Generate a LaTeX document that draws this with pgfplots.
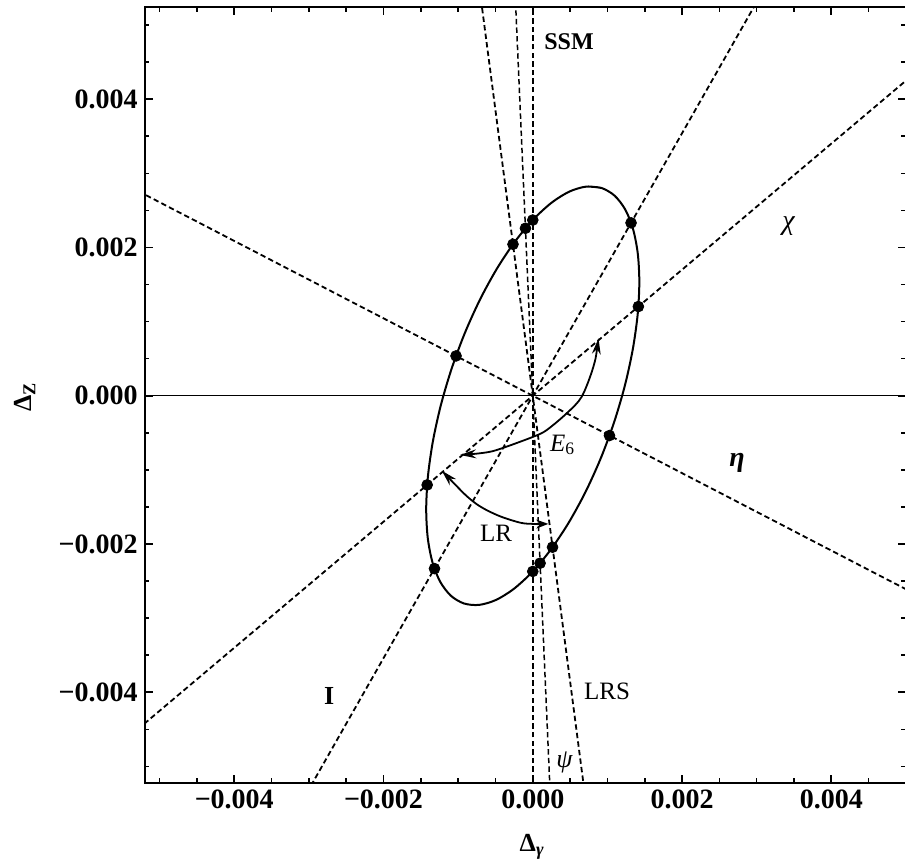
\documentclass[border=0pt]{standalone}
\usepackage{fontspec}
\setmainfont{Liberation Serif}
\usepackage{pgfplots}
\pgfplotsset{compat=1.18}
\usetikzlibrary{arrows.meta}

\begin{document}
\begin{tikzpicture}
\useasboundingbox (0,0) rectangle (452.5pt,431pt);
\begin{axis}[
  at={(72.35pt,39.65pt)}, anchor=south west,
  scale only axis, width=380.6pt, height=387.7pt,
  xmin=-0.0052, xmax=0.005, ymin=-0.00522, ymax=0.00524,
  axis line style={line width=0.9pt},
  tick align=inside,
  major tick length=4pt, minor tick length=2.3pt,
  every tick/.style={line width=0.8pt, black},
  scaled x ticks=false, scaled y ticks=false,
  xtick={-0.004,-0.002,0,0.002,0.004},
  ytick={-0.004,-0.002,0,0.002,0.004},
  xticklabels={−0.004,−0.002,0.000,0.002,0.004},
  yticklabels={−0.004,−0.002,0.000,0.002,0.004},
  minor xtick={-0.005,-0.0045,-0.0035,-0.003,-0.0025,-0.0015,-0.001,-0.0005,0.0005,0.001,0.0015,0.0025,0.003,0.0035,0.0045,0.005},
  minor ytick={-0.005,-0.0045,-0.0035,-0.003,-0.0025,-0.0015,-0.001,-0.0005,0.0005,0.001,0.0015,0.0025,0.003,0.0035,0.0045,0.005},
  tick label style={font=\fontsize{14}{16}\selectfont\bfseries},
  xlabel={\bfseries Δ\textsubscript{\textit{γ}}},
  ylabel={\bfseries Δ\textsubscript{Z}},
  xlabel style={at={(axis description cs:0.509,-0.0825)}, anchor=center, font=\fontsize{13}{15}\selectfont},
  ylabel style={at={(axis description cs:-0.1573,0.4977)}, anchor=center, font=\fontsize{13}{15}\selectfont},
  clip=true,
]
% horizontal axis through the origin
\addplot[line width=0.7pt] coordinates {(-0.006,0) (0.006,0)};

% model directions through the origin
\pgfplotsset{mdir/.style={line width=0.9pt, dash pattern=on 2.7pt off 1.6pt}}
\addplot[mdir] coordinates {(-0.006,0.003132) (0.006,-0.003132)};   % eta
\addplot[mdir] coordinates {(-0.006,-0.0051) (0.006,0.0051)};       % chi
\addplot[mdir] coordinates {(-0.0032,-0.005664) (0.0032,0.005664)}; % I
\addplot[mdir, line width=0.75pt] coordinates {(0,-0.006) (0,0.006)};        % SSM
\addplot[mdir, line width=0.75pt] coordinates {(0.000261,-0.006) (-0.000261,0.006)}; % psi
\addplot[mdir] coordinates {(0.000779,-0.006) (-0.000779,0.006)};    % LRS

% allowed region
\addplot[line width=1pt, smooth] coordinates {
 (0.9231e-3,2.8019e-3) (0.7199e-3,2.8216e-3) (0.4948e-3,2.7557e-3) (0.2547e-3,2.6060e-3)
 (0.0068e-3,2.3771e-3) (-0.2411e-3,2.0759e-3) (-0.4818e-3,1.7118e-3) (-0.7080e-3,1.2956e-3)
 (-0.9126e-3,0.8399e-3) (-1.0894e-3,0.3589e-3) (-1.2332e-3,-0.1331e-3) (-1.3394e-3,-0.6210e-3)
 (-1.4050e-3,-1.0902e-3) (-1.4279e-3,-1.5261e-3) (-1.4074e-3,-1.9157e-3) (-1.3441e-3,-2.2470e-3)
 (-1.2400e-3,-2.5101e-3) (-1.0983e-3,-2.6970e-3) (-0.9231e-3,-2.8019e-3) (-0.7199e-3,-2.8216e-3)
 (-0.4948e-3,-2.7557e-3) (-0.2547e-3,-2.6060e-3) (-0.0068e-3,-2.3771e-3) (0.2411e-3,-2.0759e-3)
 (0.4818e-3,-1.7118e-3) (0.7080e-3,-1.2956e-3) (0.9126e-3,-0.8399e-3) (1.0894e-3,-0.3589e-3)
 (1.2332e-3,0.1331e-3) (1.3394e-3,0.6210e-3) (1.4050e-3,1.0902e-3) (1.4279e-3,1.5261e-3)
 (1.4074e-3,1.9157e-3) (1.3441e-3,2.2470e-3) (1.2400e-3,2.5101e-3) (1.0983e-3,2.6970e-3)
 (0.9231e-3,2.8019e-3) (0.7199e-3,2.8216e-3)
};

% model points on the boundary
\addplot[only marks, mark=*, mark size=2.7pt, black] coordinates {
 (-1.028e-3,0.537e-3) (1.028e-3,-0.537e-3)
 (1.415e-3,1.203e-3) (-1.415e-3,-1.203e-3)
 (1.317e-3,2.332e-3) (-1.317e-3,-2.332e-3)
 (0,2.370e-3) (0,-2.370e-3)
 (-0.098e-3,2.259e-3) (0.098e-3,-2.259e-3)
 (-0.265e-3,2.043e-3) (0.265e-3,-2.043e-3)
};

% E6 family sweep
\addplot[line width=0.9pt, smooth,
  arrows={Stealth[length=8pt,width=4.4pt]-Stealth[length=8pt,width=4.4pt]}]
 coordinates {
 (0.881e-3,0.774e-3) (0.812e-3,0.391e-3) (0.656e-3,-0.013e-3) (0.455e-3,-0.237e-3)
 (0.188e-3,-0.462e-3) (0.008e-3,-0.553e-3) (-0.482e-3,-0.732e-3) (-0.706e-3,-0.776e-3)
 (-0.974e-3,-0.799e-3)
};

% LR family sweep
\addplot[line width=0.9pt, smooth,
  arrows={Stealth[length=8pt,width=4.4pt]-Stealth[length=6pt,width=4.4pt]}]
 coordinates {
 (-1.219e-3,-1.011e-3) (-0.796e-3,-1.429e-3) (-0.482e-3,-1.608e-3) (-0.170e-3,-1.712e-3)
 (0.008e-3,-1.729e-3) (0.209e-3,-1.729e-3)
};

% labels
\node[font=\fontsize{12}{14}\selectfont\bfseries] at (axis cs:0.486e-3,4.774e-3) {SSM};
\node[font=\fontsize{14}{16}\selectfont\itshape] at (axis cs:3.427e-3,2.287e-3) {χ};
\node[font=\fontsize{14}{16}\selectfont\bfseries\itshape] at (axis cs:2.737e-3,-0.907e-3) {η};
\node[font=\fontsize{13}{15}\selectfont\bfseries] at (axis cs:-2.729e-3,-4.047e-3) {I};
\node[font=\fontsize{12.5}{14}\selectfont] at (axis cs:0.995e-3,-3.987e-3) {LRS};
\node[font=\fontsize{13}{15}\selectfont\itshape] at (axis cs:0.426e-3,-4.943e-3) {ψ};
\node[font=\fontsize{12.5}{14}\selectfont] at (axis cs:0.399e-3,-0.664e-3) {\textit{E}\textsubscript{6}};
\node[font=\fontsize{12.5}{14}\selectfont] at (axis cs:-0.492e-3,-1.857e-3) {LR};
\end{axis}
\end{tikzpicture}
\end{document}
